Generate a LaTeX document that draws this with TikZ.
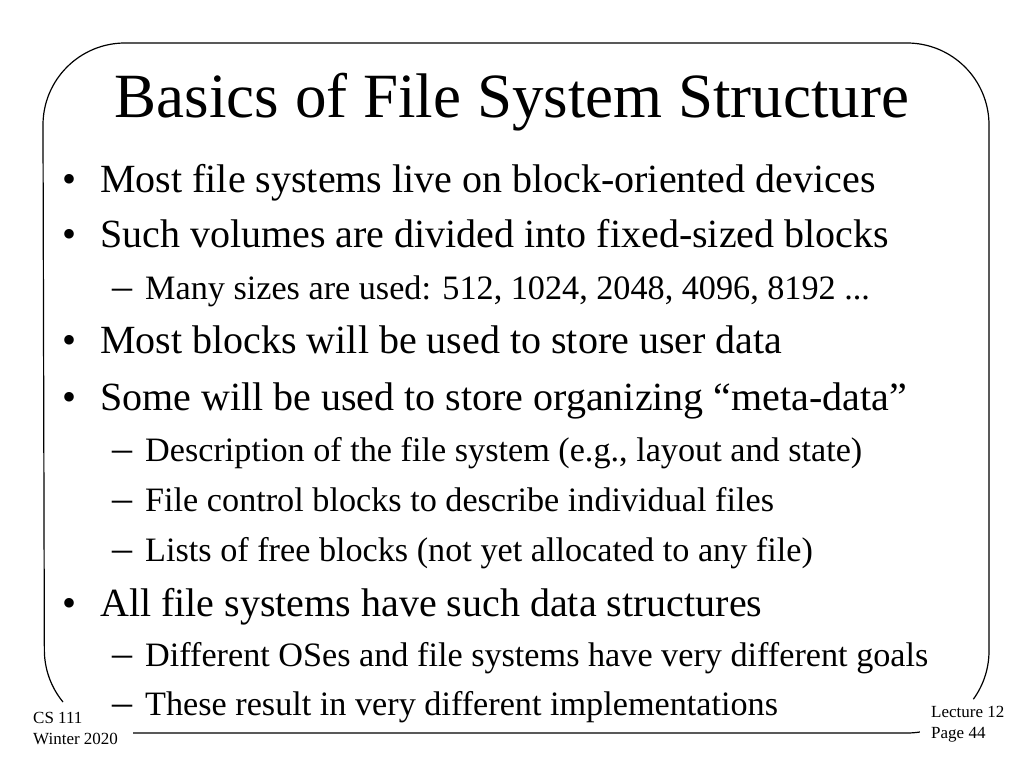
\documentclass[tikz,border=0pt]{standalone}
\usepackage{fontspec}
\setmainfont{Liberation Serif}
\begin{document}
\begin{tikzpicture}[x=1pt,y=1pt,
  every node/.style={inner sep=0pt,anchor=base west},
  slidetitle/.style={font=\fontsize{63}{63}\selectfont,anchor=base},
  itemone/.style={font=\fontsize{40}{40}\selectfont},
  itemtwo/.style={font=\fontsize{34.2}{34}\selectfont},
  slidefoot/.style={font=\fontsize{17}{17}\selectfont}]

\useasboundingbox (0,0) rectangle (1024,-768);

% Draw the frame
\draw[line width=1.2pt] (63,-702) arc[start angle=219.4,end angle=180,radius=82]
  -- (43,-125) arc[start angle=180,end angle=90,radius=82]
  -- (907,-43) arc[start angle=90,end angle=0,radius=82]
  -- (989,-651) arc[start angle=0,end angle=-36,radius=82];
\draw[line width=1.2pt] (133,-733) -- (907,-733) arc[start angle=270,end angle=279,radius=82];

% Title
\node[slidetitle] (title) at (512,-117) {Basics of File System Structure};

% First level items
\node[itemone] (dot1) at (62,-192) {\textbullet};
\node[itemone] (item1) at (100,-192) {Most file systems live on block-oriented devices};
\node[itemone] (dot2) at (62,-247) {\textbullet};
\node[itemone] (item2) at (100,-247) {Such volumes are divided into fixed-sized blocks};
\node[itemone] (dot3) at (62,-353) {\textbullet};
\node[itemone] (item3) at (100,-353) {Most blocks will be used to store user data};
\node[itemone] (dot4) at (62,-410) {\textbullet};
\node[itemone] (item4) at (100,-410) {Some will be used to store organizing “meta-data”};
\node[itemone] (dot5) at (62,-616) {\textbullet};
\node[itemone] (item5) at (100,-616) {All file systems have such data structures};

% Second level items
\node[itemone] (dash1) at (112,-299) {–};
\node[itemtwo] (sub1) at (145,-299) {Many sizes are used: 512, 1024, 2048, 4096, 8192 ...};
\node[itemone] (dash2) at (112,-461) {–};
\node[itemtwo] (sub2) at (145,-461) {Description of the file system (e.g., layout and state)};
\node[itemone] (dash3) at (112,-511) {–};
\node[itemtwo] (sub3) at (145,-511) {File control blocks to describe individual files};
\node[itemone] (dash4) at (112,-561) {–};
\node[itemtwo] (sub4) at (145,-561) {Lists of free blocks (not yet allocated to any file)};
\node[itemone] (dash5) at (112,-666) {–};
\node[itemtwo] (sub5) at (145,-666) {Different OSes and file systems have very different goals};
\node[itemone] (dash6) at (112,-715) {–};
\node[itemtwo] (sub6) at (145,-715) {These result in very different implementations};

% Footer
\node[slidefoot] (course) at (33,-723) {CS 111};
\node[slidefoot] (term) at (33,-744) {Winter 2020};
\node[slidefoot] (lecture) at (931,-717) {Lecture 12};
\node[slidefoot] (page) at (931,-738) {Page 44};

\end{tikzpicture}
\end{document}
